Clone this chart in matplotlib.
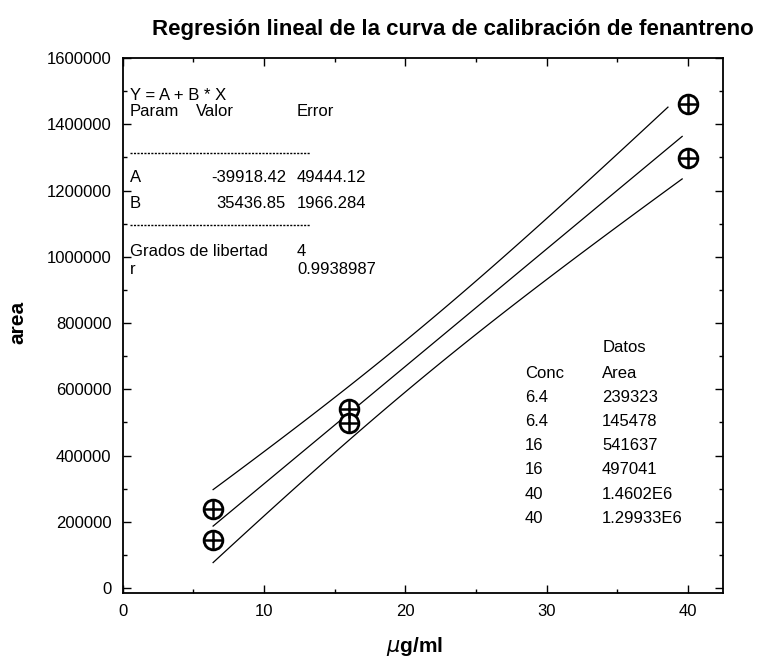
import numpy as np
import matplotlib
matplotlib.use("Agg")
import matplotlib.pyplot as plt
from matplotlib.ticker import MultipleLocator

plt.rcParams['font.family'] = ['Liberation Sans', 'DejaVu Sans']

# Calibration data (concentration in ug/ml, peak area)
conc = [6.4, 6.4, 16, 16, 40, 40]
area = [239323, 145478, 541637, 497041, 1460200, 1299330]
conc_labels = ["6.4", "6.4", "16", "16", "40", "40"]
area_labels = ["239323", "145478", "541637", "497041", "1.4602E6", "1.29933E6"]

# Fit parameters as reported
A, A_err = -39918.42, 49444.12
B, B_err = 35436.85, 1966.284
dof = 4
r_val = 0.9938987
t_crit = 2.776  # t(0.975, 4)

x = np.array(conc, dtype=float)
y = np.array(area, dtype=float)
xbar = x.mean()
sxx = ((x - xbar) ** 2).sum()
s_res = B_err * np.sqrt(sxx)

xf = np.linspace(6.4, 39.6, 100)
yf = A + B * xf
half = t_crit * s_res * np.sqrt(1 / len(x) + (xf - xbar) ** 2 / sxx)
upper_mask = xf <= 38.7

fig = plt.figure(figsize=(7.62, 6.67), dpi=100)
ax = fig.add_axes([0.161, 0.111, 0.788, 0.802])

ax.plot(xf, yf, color='black', lw=0.9)
ax.plot(xf[upper_mask], (yf + half)[upper_mask], color='black', lw=0.9)
ax.plot(xf, yf - half, color='black', lw=0.9)

ax.plot(x, y, linestyle='none', marker='o', ms=13.5, mfc='white',
        mec='black', mew=2.0, zorder=3)
ax.plot(x, y, linestyle='none', marker='+', ms=13.5, mec='black',
        mew=1.8, zorder=4)

ax.set_xlim(0, 42.5)
ax.set_ylim(-15000, 1600000)
ax.xaxis.set_major_locator(MultipleLocator(10))
ax.xaxis.set_minor_locator(MultipleLocator(5))
ax.yaxis.set_major_locator(MultipleLocator(200000))
ax.yaxis.set_minor_locator(MultipleLocator(100000))
ax.tick_params(which='both', direction='in', top=True, right=True,
               labelsize=12, width=1.0)
ax.tick_params(which='major', length=6, pad=8)
ax.tick_params(which='minor', length=3)
ax.ticklabel_format(axis='y', style='plain', useOffset=False)
for sp in ax.spines.values():
    sp.set_linewidth(1.3)

# Regression summary block
tk = dict(transform=ax.transAxes, fontsize=12, va='center')

def ax_xy(px, py):
    fx = (px - 122.7) / (0.788 * 762)
    fyv = ((667 - py) / 667 - 0.111) / 0.802
    return fx, fyv

def put(px, py, s, ha='left'):
    fx, fyv = ax_xy(px, py)
    ax.text(fx, fyv, s, ha=ha, **tk)

put(130, 96, "Y = A + B * X")
put(130, 112, "Param")
put(196, 112, "Valor")
put(297, 112, "Error")
put(130, 177, "A")
put(286, 177, f"{A:.2f}", ha='right')
put(297, 177, f"{A_err:.2f}")
put(130, 203, "B")
put(286, 203, f"{B:.2f}", ha='right')
put(297, 203, f"{B_err:.3f}")
put(130, 252, "Grados de libertad")
put(297, 252, f"{dof}")
put(130, 270, "r")
put(297, 270, f"{r_val:.7f}")

for py in (153, 225):
    x0, yy = ax_xy(130, py)
    x1, _ = ax_xy(310, py)
    ax.plot([x0, x1], [yy, yy], transform=ax.transAxes, color='black',
            lw=1.0, linestyle=(0, (1.5, 1.0)))

# Data table
put(603, 348, "Datos")
put(525, 373, "Conc")
put(602, 373, "Area")
for i, (c, a) in enumerate(zip(conc_labels, area_labels)):
    py = 397 + i * 24.3
    put(525, py, c)
    put(602, py, a)

fig.text(0.594, 1 - 30 / 667, "Regresión lineal de la curva de calibración de fenantreno",
         ha='center', va='center', fontsize=16, fontweight='bold')
fig.text(18 / 762, 1 - 322 / 667, "area", rotation=90, ha='center', va='center',
         fontsize=15, fontweight='bold')
fig.text(415 / 762, 1 - 647 / 667, r"$\mu$g/ml", ha='center', va='center',
         fontsize=15, fontweight='bold')

fig.savefig("out.png", dpi=100)
